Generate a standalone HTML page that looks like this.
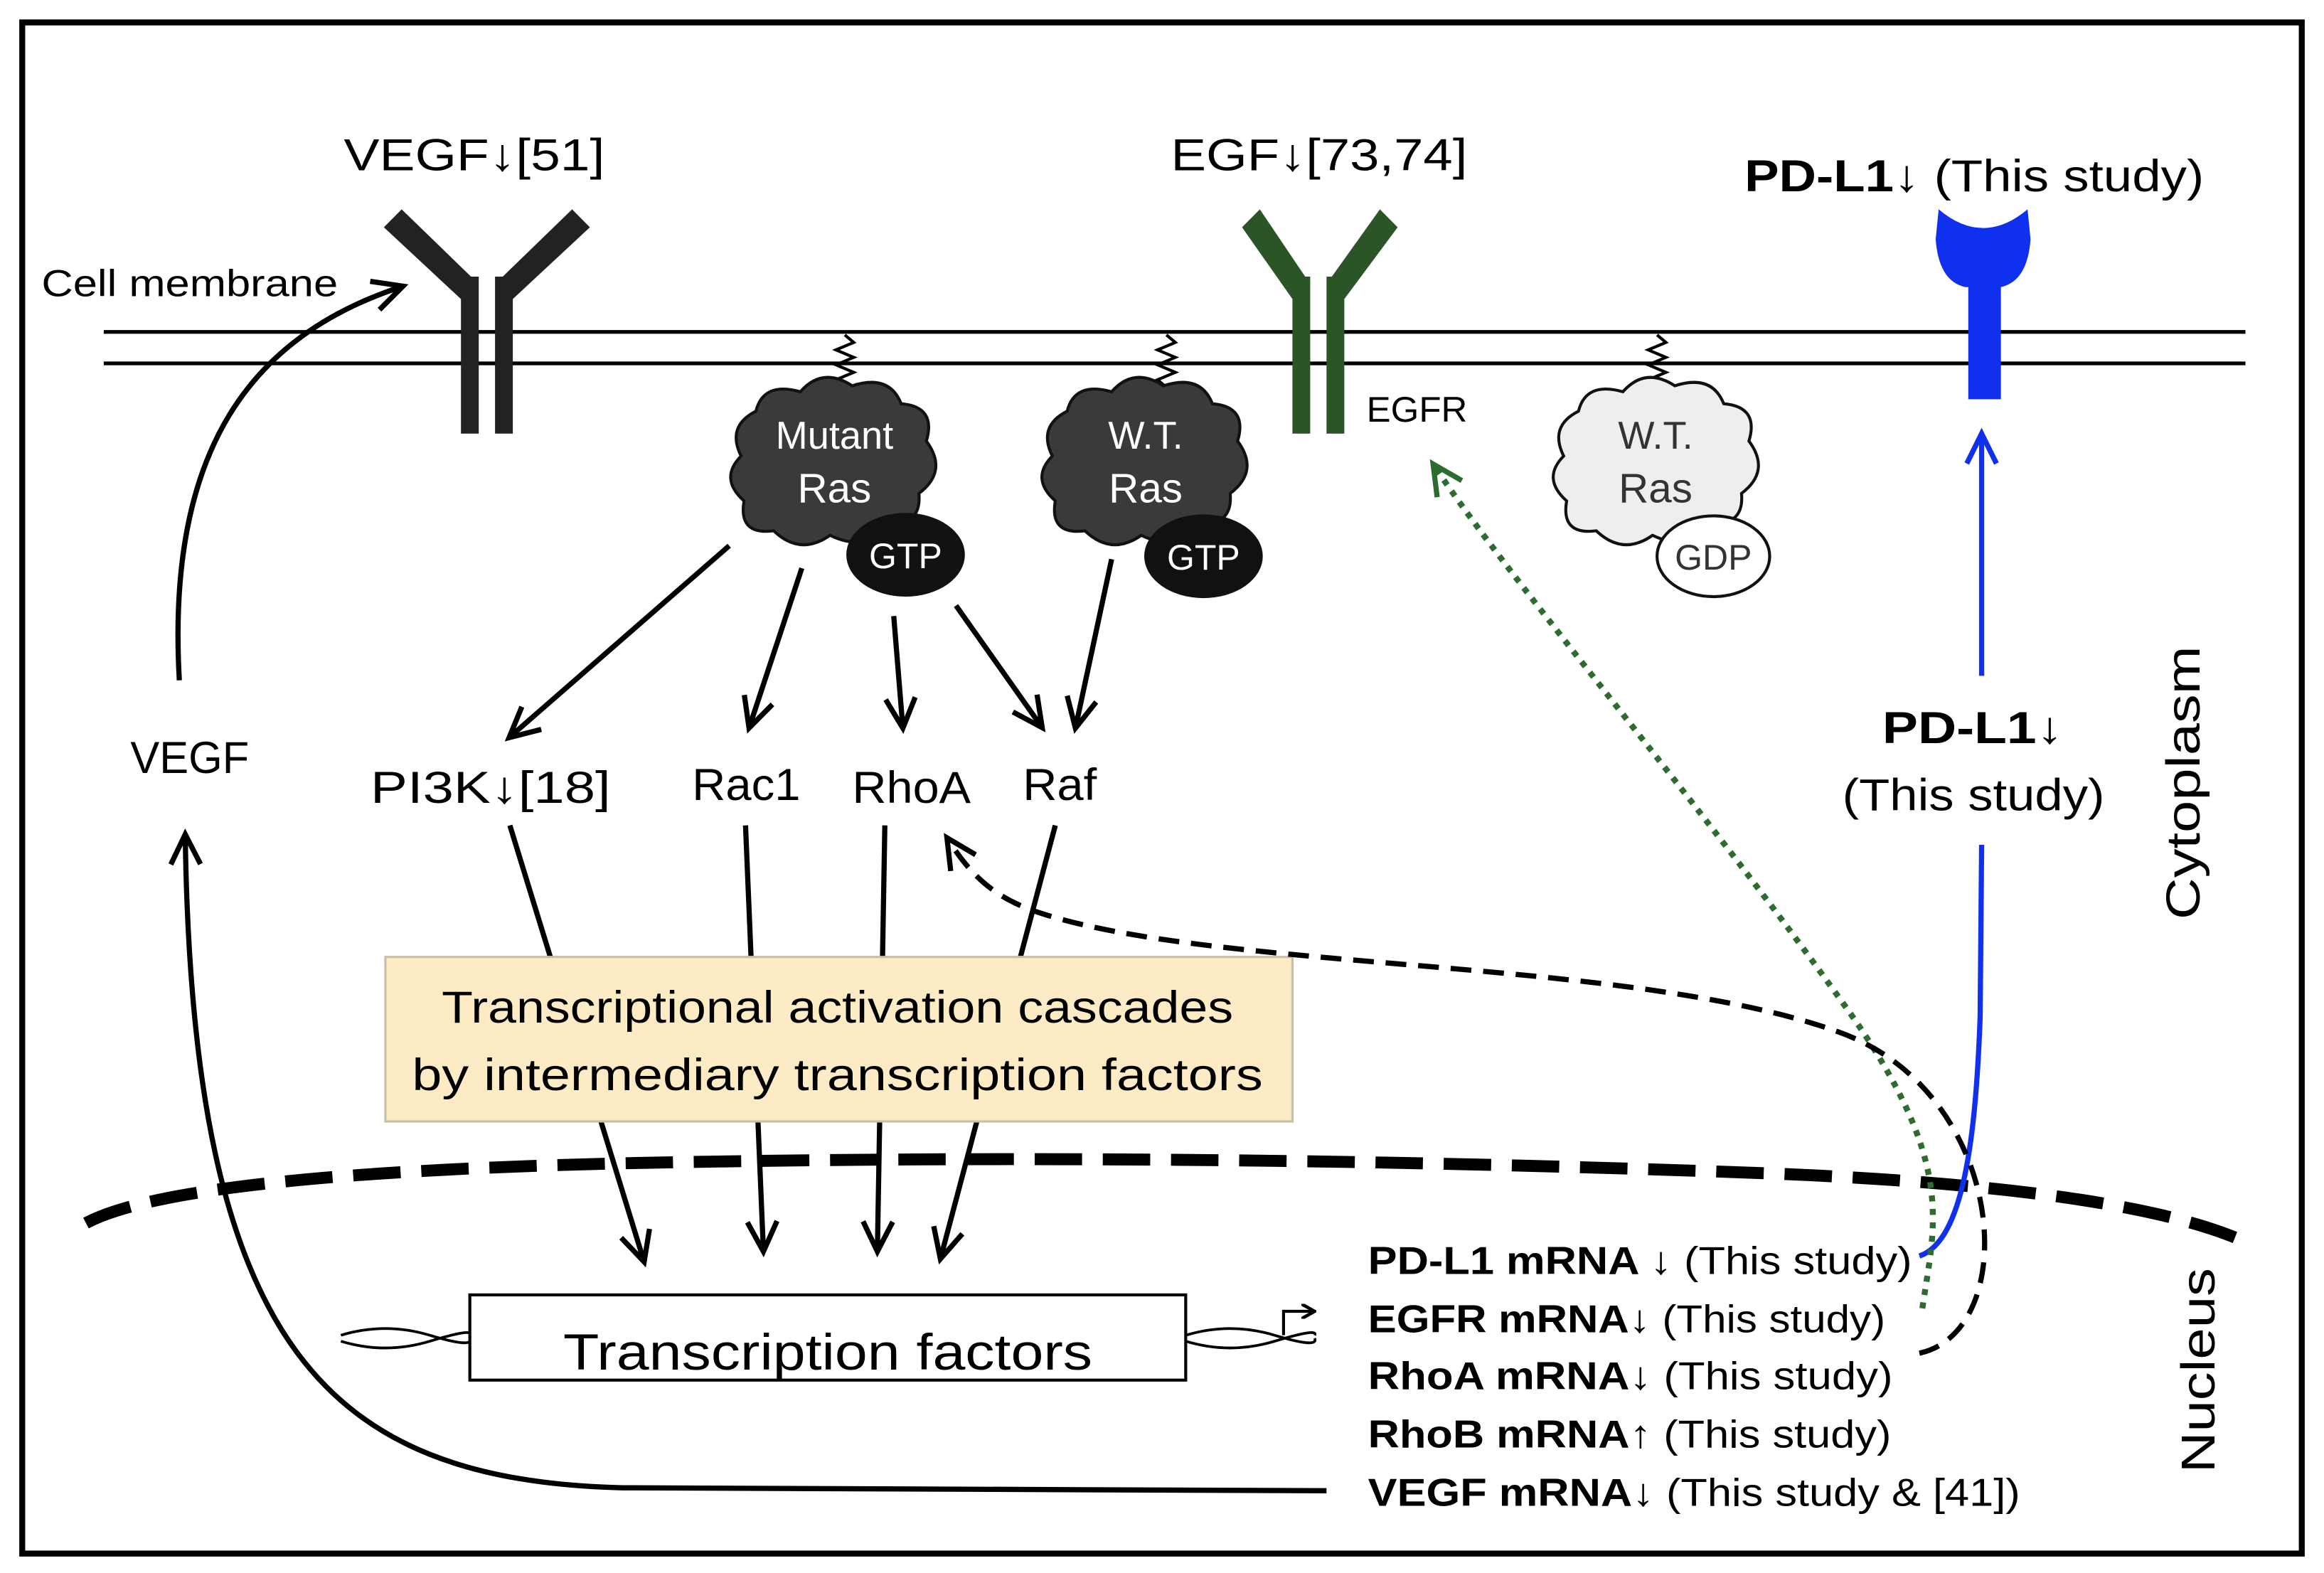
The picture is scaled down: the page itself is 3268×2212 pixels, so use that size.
<!DOCTYPE html>
<html><head><meta charset="utf-8"><style>
html,body{margin:0;padding:0;background:#fff;}
svg{display:block;}
text{font-family:"Liberation Sans","DejaVu Sans",sans-serif;}
</style></head><body>
<svg width="3268" height="2212" viewBox="0 0 1568 1052" preserveAspectRatio="none" xmlns="http://www.w3.org/2000/svg">
<defs>
<marker id="ah" markerWidth="10" markerHeight="10" refX="8" refY="5" orient="auto" markerUnits="userSpaceOnUse" viewBox="0 0 10 10">
<path d="M0,0 L9,5 L0,10" fill="none" stroke="#000" stroke-width="2.2"/></marker>
<marker id="ahb" markerWidth="26" markerHeight="26" refX="20" refY="13" orient="auto" markerUnits="userSpaceOnUse">
<path d="M2,3 L22,13 L2,23" fill="none" stroke="#000" stroke-width="3.5"/></marker>
<marker id="ahblue" markerWidth="26" markerHeight="26" refX="20" refY="13" orient="auto" markerUnits="userSpaceOnUse">
<path d="M2,3 L22,13 L2,23" fill="none" stroke="#1030f0" stroke-width="3.5"/></marker>
<marker id="ahg" markerWidth="26" markerHeight="26" refX="20" refY="13" orient="auto" markerUnits="userSpaceOnUse">
<path d="M2,3 L22,13 L2,23" fill="none" stroke="#2e6b2e" stroke-width="3.5"/></marker>
</defs>
<rect x="0" y="0" width="1568" height="1052" fill="#fff"/>
<rect x="15" y="15" width="1538" height="1024" fill="none" stroke="#000" stroke-width="4"/>

<line x1="70" y1="222" x2="1515" y2="222" stroke="#000" stroke-width="2.5"/>
<line x1="70" y1="243" x2="1515" y2="243" stroke="#000" stroke-width="2.5"/>
<text x="28" y="198" font-size="25" textLength="200" lengthAdjust="spacingAndGlyphs">Cell membrane</text>

<g fill="#222">
<rect x="311" y="185" width="12" height="105"/><rect x="334" y="185" width="12" height="105"/>
<polygon points="259,152 271,140 323,190 311,200"/>
<polygon points="398,152 386,140 334,190 346,200"/>
</g>
<text x="232" y="114" font-size="30" textLength="176" lengthAdjust="spacingAndGlyphs">VEGF↓[51]</text>

<g fill="#2b5526">
<rect x="872" y="185" width="12" height="105"/><rect x="895" y="185" width="12" height="105"/>
<polygon points="838,152 850,140 884,190 872,200"/>
<polygon points="943,152 931,140 895,190 907,200"/>
</g>
<text x="790" y="114" font-size="30" textLength="200" lengthAdjust="spacingAndGlyphs">EGF↓[73,74]</text>
<text x="922" y="282" font-size="24" textLength="68" lengthAdjust="spacingAndGlyphs">EGFR</text>

<path d="M1308,140 Q1338,165 1368,140 L1370,160 Q1368,188 1350,192 L1326,192 Q1308,188 1306,160 Z" fill="#1030f0"/>
<rect x="1328" y="185" width="22" height="82" fill="#1030f0"/>
<text x="1177" y="128" font-size="30" textLength="310" lengthAdjust="spacingAndGlyphs"><tspan font-weight="bold">PD-L1↓</tspan> (This study)</text>

<g fill="none" stroke="#000" stroke-width="2">
<path d="M570,224 l6,5 l-12,5 l12,5 l-12,5 l12,5 l-12,5 l6,5 v8"/>
<path d="M787,224 l6,5 l-12,5 l12,5 l-12,5 l12,5 l-12,5 l6,5 v8"/>
<path d="M1118,224 l6,5 l-12,5 l12,5 l-12,5 l12,5 l-12,5 l6,5 v8"/>
</g>

<path d="M510,275 Q515,255 540,262 Q555,245 575,258 Q600,250 608,270 Q632,272 625,295 Q640,315 620,330 Q622,352 598,350 Q585,370 560,358 Q540,372 522,355 Q498,358 502,335 Q485,320 500,305 Q490,285 510,275 Z" fill="#3a3a3a" stroke="#111" stroke-width="2"/>
<ellipse cx="611" cy="371" rx="40" ry="28" fill="#111"/>
<text x="563" y="300" font-size="26" fill="#fff" text-anchor="middle">Mutant</text>
<text x="563" y="336" font-size="28" fill="#fff" text-anchor="middle">Ras</text>
<text x="611" y="380" font-size="24" fill="#fff" text-anchor="middle">GTP</text>

<path d="M720,275 Q725,255 750,262 Q765,245 785,258 Q810,250 818,270 Q842,272 835,295 Q850,315 830,330 Q832,352 808,350 Q795,370 770,358 Q750,372 732,355 Q708,358 712,335 Q695,320 710,305 Q700,285 720,275 Z" fill="#3a3a3a" stroke="#111" stroke-width="2"/>
<ellipse cx="812" cy="372" rx="40" ry="28" fill="#111"/>
<text x="773" y="300" font-size="26" fill="#fff" text-anchor="middle">W.T.</text>
<text x="773" y="336" font-size="28" fill="#fff" text-anchor="middle">Ras</text>
<text x="812" y="381" font-size="24" fill="#fff" text-anchor="middle">GTP</text>

<path d="M1065,275 Q1070,255 1095,262 Q1110,245 1130,258 Q1155,250 1163,270 Q1187,272 1180,295 Q1195,315 1175,330 Q1177,352 1153,350 Q1140,370 1115,358 Q1095,372 1077,355 Q1053,358 1057,335 Q1040,320 1055,305 Q1045,285 1065,275 Z" fill="#eee" stroke="#111" stroke-width="2"/>
<ellipse cx="1156" cy="372" rx="38" ry="27" fill="#fff" stroke="#111" stroke-width="2"/>
<text x="1117" y="300" font-size="26" fill="#333" text-anchor="middle">W.T.</text>
<text x="1117" y="336" font-size="28" fill="#333" text-anchor="middle">Ras</text>
<text x="1156" y="381" font-size="24" fill="#333" text-anchor="middle">GDP</text>

<g stroke="#000" stroke-width="3.5" fill="none" marker-end="url(#ahb)">
<line x1="492" y1="365" x2="345" y2="492"/>
<line x1="541" y1="380" x2="506" y2="485"/>
<line x1="603" y1="412" x2="609" y2="485"/>
<line x1="645" y1="405" x2="702" y2="485"/>
<line x1="750" y1="374" x2="726" y2="485"/>
</g>

<g font-size="30">
<text x="88" y="517" textLength="80" lengthAdjust="spacingAndGlyphs">VEGF</text>
<text x="250" y="537" textLength="162" lengthAdjust="spacingAndGlyphs">PI3K↓[18]</text>
<text x="467" y="535" textLength="73" lengthAdjust="spacingAndGlyphs">Rac1</text>
<text x="575" y="537" textLength="80" lengthAdjust="spacingAndGlyphs">RhoA</text>
<text x="690" y="535" textLength="50" lengthAdjust="spacingAndGlyphs">Raf</text>
</g>

<g stroke="#000" stroke-width="3.5" fill="none" marker-end="url(#ahb)">
<line x1="344" y1="552" x2="434" y2="842"/>
<line x1="503" y1="552" x2="515" y2="835"/>
<line x1="597" y1="552" x2="592" y2="835"/>
<line x1="712" y1="552" x2="635" y2="840"/>
</g>

<rect x="260" y="640" width="612" height="110" fill="#fcebc4" stroke="#c8bfa8" stroke-width="1.5"/>
<text x="298" y="684" font-size="30" textLength="534" lengthAdjust="spacingAndGlyphs">Transcriptional activation cascades</text>
<text x="278" y="729" font-size="30" textLength="574" lengthAdjust="spacingAndGlyphs">by intermediary transcription  factors</text>

<path d="M58,818 Q120,785 420,778 Q800,770 1200,785 Q1440,795 1518,832" fill="none" stroke="#000" stroke-width="8" stroke-dasharray="32,14"/>

<g fill="none" stroke="#000" stroke-width="1.8">
<path d="M230,893 Q260,884 290,893 T317,895"/>
<path d="M230,897 Q260,906 290,897 T317,893"/>
<path d="M800,893 Q830,884 860,893 T887,895"/>
<path d="M800,897 Q830,906 860,897 T887,893"/>
</g>
<rect x="317" y="866" width="483" height="57" fill="#fff" stroke="#000" stroke-width="2"/>
<text x="380" y="916" font-size="34" textLength="357" lengthAdjust="spacingAndGlyphs">Transcription factors</text>
<path d="M866,893 V877 H886" fill="none" stroke="#000" stroke-width="2" marker-end="url(#ah)"/>

<g font-size="26">
<text x="923" y="852" textLength="367" lengthAdjust="spacingAndGlyphs"><tspan font-weight="bold">PD-L1 mRNA ↓</tspan> (This study)</text>
<text x="923" y="891" textLength="349" lengthAdjust="spacingAndGlyphs"><tspan font-weight="bold">EGFR mRNA↓</tspan> (This study)</text>
<text x="923" y="929" textLength="354" lengthAdjust="spacingAndGlyphs"><tspan font-weight="bold">RhoA mRNA↓</tspan> (This study)</text>
<text x="923" y="968" textLength="353" lengthAdjust="spacingAndGlyphs"><tspan font-weight="bold">RhoB mRNA↑</tspan> (This study)</text>
<text x="923" y="1007" textLength="440" lengthAdjust="spacingAndGlyphs"><tspan font-weight="bold">VEGF mRNA↓</tspan> (This study &amp; [41])</text>
</g>

<text font-size="32" transform="translate(1484,615) rotate(-90)" textLength="183" lengthAdjust="spacingAndGlyphs">Cytoplasm</text>
<text font-size="32" transform="translate(1494,985) rotate(-90)" textLength="137" lengthAdjust="spacingAndGlyphs">Nucleus</text>

<path d="M121,455 C112,300 170,225 270,192" fill="none" stroke="#000" stroke-width="3.5" marker-end="url(#ahb)"/>
<path d="M895,997 L420,995 C220,990 130,900 125,560" fill="none" stroke="#000" stroke-width="3.5" marker-end="url(#ahb)"/>

<path d="M1295,840 C1325,830 1333,760 1336,680 L1337,565" fill="none" stroke="#1030f0" stroke-width="3.5"/>
<line x1="1337" y1="452" x2="1337" y2="292" stroke="#1030f0" stroke-width="3.5" marker-end="url(#ahblue)"/>
<text x="1270" y="497" font-size="30" font-weight="bold" textLength="122" lengthAdjust="spacingAndGlyphs">PD-L1↓</text>
<text x="1243" y="542" font-size="30" textLength="177" lengthAdjust="spacingAndGlyphs">(This study)</text>

<path d="M1297,875 C1305,820 1320,780 1250,680 C1150,540 1020,390 968,312" fill="none" stroke="#2e6b2e" stroke-width="4" stroke-dasharray="4,5" marker-end="url(#ahg)"/>

<path d="M1295,905 C1365,890 1355,730 1240,690 C1100,640 820,650 700,610 C670,600 655,585 640,562" fill="none" stroke="#000" stroke-width="3.5" stroke-dasharray="14,8" marker-end="url(#ahb)"/>
</svg>
</body></html>
